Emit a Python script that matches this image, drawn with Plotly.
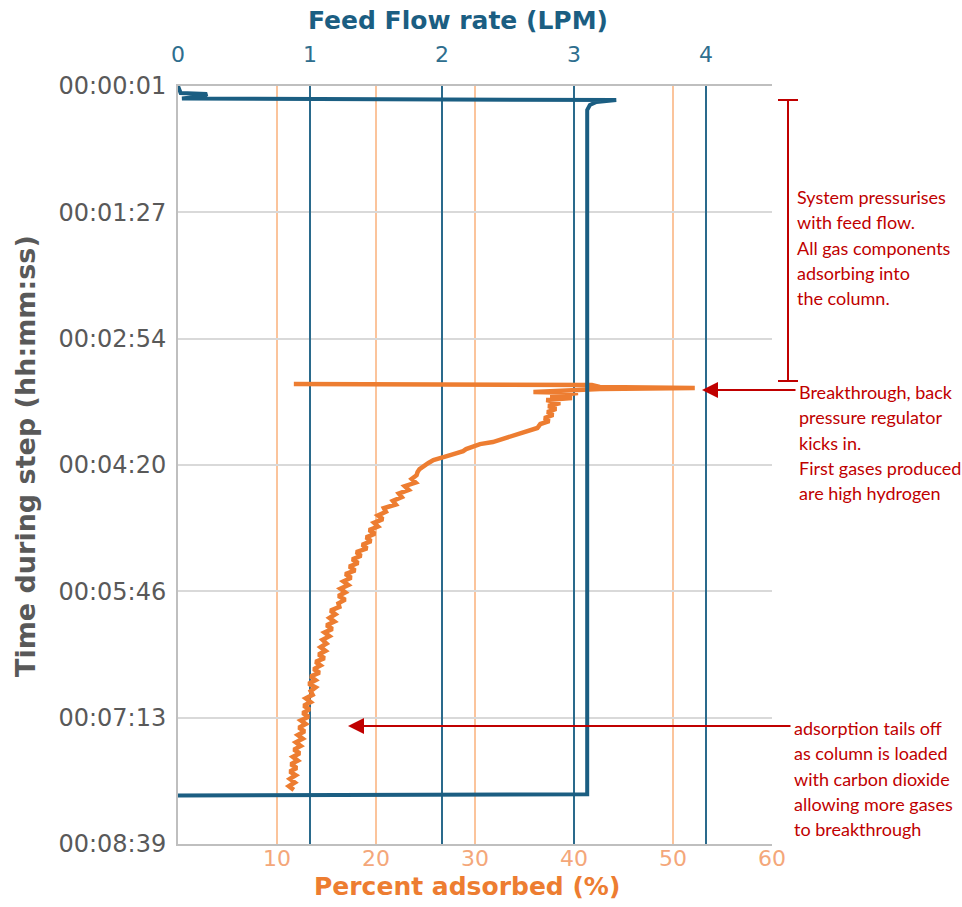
import plotly.graph_objects as go

# ---------------- data ----------------
# Feed flow rate (LPM) vs time during step (seconds)
flow_time_s = [1, 5.8, 6.5, 7.8, 9.5, 10.6, 11.9, 14.0, 17.4, 485.0, 485.8, 487.0]
flow_lpm = [0.0, 0.02, 0.22, 0.20, 0.03, 3.32, 3.17, 3.12, 3.10, 3.10, 0.0, 0.0]

# Percent adsorbed (%) vs time during step (seconds)
ads_time_s = [
    204.6, 205.3, 206.7, 207.4, 208.1, 208.8, 210.1, 210.8, 212.9, 214.2,
    215.6, 217.6, 219.7, 221.7, 223.8, 225.8, 227.9, 230.0, 232.0, 234.7,
    236.8, 238.8, 240.9, 243.0, 244.3, 245.7, 247.7, 249.1, 250.5, 251.8,
    253.2, 254.5, 256.6, 258.6, 260.7, 262.8, 264.8,
    267, 269.5, 272, 274.5, 277, 279.5, 282, 284.5, 287, 289.5,
    292, 294.5, 297, 299.5, 302, 304.5, 307, 309.5, 312, 314.5,
    317, 319.5, 322, 324.5, 327, 329.5, 332, 334.5, 337, 339.5,
    342, 344.5, 347, 349.5, 352, 354.5, 357, 359.5, 362, 364.5,
    367, 369.5, 372, 374.5, 377, 379.5, 382, 384.5, 387, 389.5,
    392, 394.5, 397, 399.5, 402, 404.5, 407, 409.5, 412, 414.5,
    417, 419.5, 422, 424.5, 427, 429.5, 432, 434.5, 437, 439.5,
    442, 444.5, 447, 449.5, 452, 454.5, 457, 459.5, 462, 464.5,
    467, 469.5, 472, 474.5, 477, 479.5, 482,
]
ads_pct = [
    11.7, 41.8, 42.6, 52.2, 42.6, 40.4, 35.9, 40.4, 37.6, 39.8,
    37.2, 38.6, 37.4, 38.2, 37.3, 37.9, 37.0, 37.5, 36.6, 36.3,
    35.3, 34.5, 33.3, 32.5, 31.8, 30.5, 29.5, 29.1, 28.8, 28.0,
    27.5, 26.9, 25.8, 25.3, 24.8, 24.4, 24.2,
    24.1, 23.6, 24.0, 22.9, 23.3, 22.3, 22.6, 21.7, 22.0, 20.8,
    21.0, 20.2, 20.7, 19.8, 20.2, 19.3, 19.9, 19.0, 19.5, 18.6,
    19.1, 18.0, 18.5, 17.6, 18.2, 17.3, 17.9, 16.9, 17.5, 16.7,
    17.2, 16.4, 16.9, 16.2, 16.9, 16.2, 16.3, 15.4, 15.9, 15.3,
    15.8, 15.0, 15.6, 14.8, 15.3, 14.6, 15.0, 14.4, 14.9, 14.2,
    14.8, 13.9, 14.4, 13.7, 14.3, 13.4, 13.9, 13.2, 13.9, 13.4,
    13.6, 12.9, 13.4, 12.7, 13.3, 12.6, 13.2, 12.4, 12.9, 12.2,
    12.8, 12.1, 12.6, 11.9, 12.4, 11.7, 12.3, 11.6, 12.1, 11.4,
    12.0, 11.3, 11.9, 11.3, 11.8, 11.2, 11.7,
]

# axis ticks
time_tick_vals = [1, 87.33, 173.67, 260, 346.33, 432.67, 519]
time_tick_text = ["00:00:01", "00:01:27", "00:02:54", "00:04:20",
                  "00:05:46", "00:07:13", "00:08:39"]
pct_tick_vals = [10, 20, 30, 40, 50, 60]
flow_tick_vals = [0, 1, 2, 3, 4]

note_pressurise = ["System pressurises", "with feed flow.", "All gas components",
                   "adsorbing into", "the column."]
note_breakthrough = ["Breakthrough, back", "pressure regulator", "kicks in.",
                     "First gases produced", "are high hydrogen"]
note_tail = ["adsorption tails off", "as column is loaded", "with carbon dioxide",
             "allowing more gases", "to breakthrough"]

# ---------------- styles ----------------
BLUE = "#1B5E82"
BLUE_GRID = "#2A6A8C"
BLUE_TICK = "#2E6E8E"
ORANGE = "#ED7D31"
ORANGE_GRID = "#FBC49C"
ORANGE_TICK = "#F4A77A"
GREY = "#595959"
RED = "#C00000"
FONT = "DejaVu Sans"
NOTE_FONT = "Lato"

W, H = 962, 907
PL, PR, PT, PB = 178, 772, 86, 844


def px(x):
    return (x - PL) / (PR - PL)


def py(y):
    return (PB - y) / (PB - PT)


fig = go.Figure()
fig.add_trace(go.Scatter(x=flow_lpm, y=flow_time_s, xaxis="x2", yaxis="y",
                         mode="lines", line=dict(color=BLUE, width=4),
                         showlegend=False))
fig.add_trace(go.Scatter(x=ads_pct, y=ads_time_s, xaxis="x", yaxis="y",
                         mode="lines", line=dict(color=ORANGE, width=4.5),
                         showlegend=False))

annotations = []
# axis titles
annotations.append(dict(x=px(457.5), y=py(21), xref="paper", yref="paper",
                        xanchor="center", yanchor="middle",
                        text="<b>Feed Flow rate (LPM)</b>", showarrow=False,
                        font=dict(family=FONT, size=25, color=BLUE)))
annotations.append(dict(x=px(466.5), y=py(886), xref="paper", yref="paper",
                        xanchor="center", yanchor="middle",
                        text="<b>Percent adsorbed (%)</b>", showarrow=False,
                        font=dict(family=FONT, size=25, color=ORANGE)))
annotations.append(dict(x=px(25), y=py(456), xref="paper", yref="paper",
                        xanchor="center", yanchor="middle",
                        text="<b>Time during step (hh:mm:ss)</b>", showarrow=False,
                        textangle=-90,
                        font=dict(family=FONT, size=27, color=GREY)))

# note texts
for lines, x0, y0 in [(note_pressurise, 795, 197),
                      (note_breakthrough, 797, 392),
                      (note_tail, 792, 728)]:
    for i, t in enumerate(lines):
        annotations.append(dict(x=px(x0), y=py(y0 + 25.3 * i), xref="paper",
                                yref="paper", text=t, showarrow=False,
                                xanchor="left", yanchor="middle",
                                font=dict(family=NOTE_FONT, size=18, color=RED)))

# arrows
for head_x, tail_x, yy in [(702, 797, 390), (348, 792, 726)]:
    annotations.append(dict(x=px(head_x), y=py(yy), xref="paper", yref="paper",
                            ax=tail_x - head_x, ay=0, text="", showarrow=True,
                            arrowhead=2, arrowsize=1.6, arrowwidth=2,
                            arrowcolor=RED, standoff=0))

shapes = [
    dict(type="line", xref="paper", yref="paper", x0=px(788), x1=px(788),
         y0=py(100), y1=py(381), line=dict(color=RED, width=2)),
    dict(type="line", xref="paper", yref="paper", x0=px(778), x1=px(798),
         y0=py(100), y1=py(100), line=dict(color=RED, width=2)),
    dict(type="line", xref="paper", yref="paper", x0=px(778), x1=px(798),
         y0=py(381), y1=py(381), line=dict(color=RED, width=2)),
]

fig.update_layout(
    width=W, height=H,
    margin=dict(l=PL, r=W - PR, t=PT, b=H - PB, autoexpand=False),
    paper_bgcolor="white", plot_bgcolor="white",
    showlegend=False,
    xaxis=dict(range=[0, 60], tickmode="array", tickvals=pct_tick_vals,
               showgrid=True, gridcolor=ORANGE_GRID, gridwidth=1.5,
               zeroline=False, showline=True, linecolor="#BFBFBF", linewidth=2,
               ticks="", ticklabelstandoff=-6,
               tickfont=dict(family=FONT, size=22, color=ORANGE_TICK)),
    xaxis2=dict(range=[0, 4.5], overlaying="x", side="top", anchor="y",
                tickmode="array", tickvals=flow_tick_vals,
                showgrid=True, gridcolor=BLUE_GRID, gridwidth=1.5,
                zeroline=False, showline=True, linecolor="#BFBFBF", linewidth=2,
                ticks="", ticklabelstandoff=13,
                tickfont=dict(family=FONT, size=22, color=BLUE_TICK)),
    yaxis=dict(range=[519, 1], tickmode="array", tickvals=time_tick_vals,
               ticktext=time_tick_text, showgrid=True, gridcolor="#D9D9D9",
               gridwidth=2, zeroline=False, showline=True, linecolor="#BFBFBF",
               linewidth=2, ticks="", ticklabelstandoff=5,
               tickfont=dict(family=FONT, size=24, color=GREY)),
    annotations=annotations,
    shapes=shapes,
)

fig.write_html("out.html")
